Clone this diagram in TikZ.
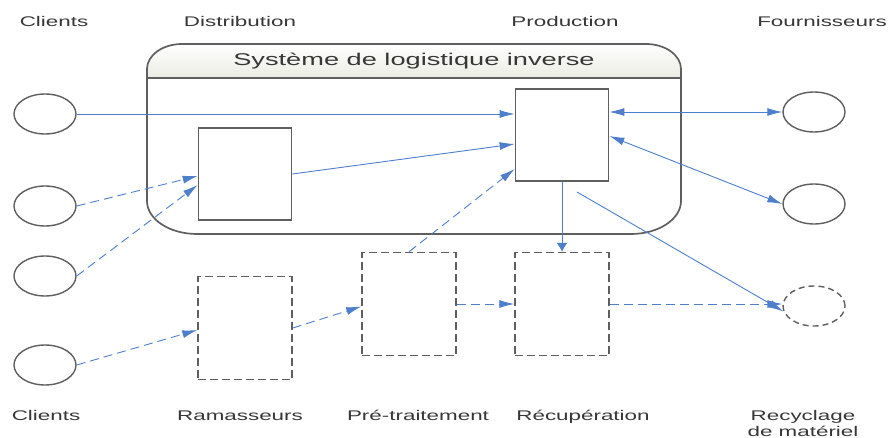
\documentclass[tikz,border=0pt]{standalone}
\usepackage{fontspec}
\setmainfont{Liberation Sans}[FakeStretch=1.6]
\usetikzlibrary{shapes.geometric,arrows.meta}
\definecolor{boxgray}{RGB}{95,95,95}
\definecolor{arrblue}{RGB}{77,127,204}
\definecolor{txtgray}{RGB}{55,55,55}
\definecolor{bandbot}{RGB}{234,236,226}
\tikzset{
  actor/.style={ellipse,draw=boxgray,line width=1.4pt,minimum width=62pt,minimum height=40pt,inner sep=0pt,fill=white},
  actordash/.style={actor,dash pattern=on 6pt off 4pt},
  solidbox/.style={rectangle,draw=boxgray,line width=1.7pt,fill=white,minimum width=93pt,minimum height=92pt,inner sep=0pt},
  dashbox/.style={rectangle,draw=boxgray,line width=1.5pt,dash pattern=on 8pt off 4pt,minimum width=94pt,minimum height=103pt,inner sep=0pt},
  lab/.style={font=\fontsize{14}{16}\selectfont,text=txtgray,inner sep=0pt,anchor=base,align=center},
  arr/.style={draw=arrblue,line width=0.9pt,-{Latex[length=15pt,width=8pt]}},
  darr/.style={arr,{Latex[length=15pt,width=8pt]}-{Latex[length=15pt,width=8pt]}},
  dasharr/.style={arr,dash pattern=on 9pt off 5pt},
}
\begin{document}
\begin{tikzpicture}[x=1pt,y=-1pt]
\useasboundingbox (0,0) rectangle (890,438);
% system frame
\shade[top color=white,bottom color=bandbot]
  (147,78) -- (147,69) .. controls (147,55.2) and (162.7,44) .. (182,44)
  -- (646,44) .. controls (665.3,44) and (681,55.2) .. (681,69) -- (681,78) -- cycle;
\draw[boxgray,line width=1.7pt]
  (147,78) -- (147,69) .. controls (147,55.2) and (162.7,44) .. (182,44)
  -- (646,44) .. controls (665.3,44) and (681,55.2) .. (681,69)
  -- (681,201) .. controls (681,219.2) and (658.6,234) .. (631,234)
  -- (197,234) .. controls (169.4,234) and (147,219.2) .. (147,201) -- cycle;
\draw[boxgray,line width=1.3pt] (147,78) -- (681,78);
\node[font=\fontsize{17}{19}\selectfont,text=txtgray,inner sep=0pt] (title) at (414,61) {Système de logistique inverse};
% actors
\node[actor] (c1) at (45,114) {};
\node[actor] (c2) at (45,206) {};
\node[actor] (c3) at (45,276) {};
\node[actor] (c4) at (45,365) {};
\node[actor] (f1) at (814,112) {};
\node[actor] (f2) at (814,204) {};
\node[actordash] (rc) at (814,306) {};
% boxes
\node[solidbox] (dist) at (245,174) {};
\node[solidbox] (prod) at (562,135) {};
\node[dashbox] (ram) at (245,328) {};
\node[dashbox] (pre) at (409,304) {};
\node[dashbox] (rec) at (562,304) {};
% connectors
\draw[arr] (c1.east) -- (c1.east -| prod.west);
\draw[arr] (dist.east) -- ([yshift=-9pt]prod.west);
\draw[dasharr] (c2.east) -- ([yshift=-2pt]dist.west);
\draw[dasharr] (c3.east) -- ([yshift=-11pt]dist.west);
\draw[dasharr] (c4.east) -- ([yshift=-2pt]ram.west);
\draw[dasharr] (ram.east) -- ([yshift=-2.5pt]pre.west);
\draw[dasharr] (pre.north) -- ([yshift=-34pt]prod.west);
\draw[dasharr] (pre.east) -- (pre.east -| rec.west);
\draw[arr,-{Latex[length=9pt,width=11pt]}] (prod.south) -- (rec.north);
\draw[darr] ([yshift=23pt]prod.east) -- (f1.west);
\draw[darr] ([yshift=-1pt]prod.east) -- (f2.west);
\coordinate (src) at (577,192);
\draw[arr] (src) -- (rc.190);
\draw[dasharr] (rec.east) -- (rec.east -| rc.west);
% labels
\node[lab] (lc1) at (54,27) {Clients};
\node[lab] (ldist) at (240,27) {Distribution};
\node[lab] (lprod) at (565,27) {Production};
\node[lab] (lfour) at (822,27) {Fournisseurs};
\node[lab] (lc2) at (46,420) {Clients};
\node[lab] (lram) at (240,420) {Ramasseurs};
\node[lab] (lpre) at (418,420) {Pré-traitement};
\node[lab] (lrec) at (583,420) {Récupération};
\node[lab] (lrecy) at (803,436) {Recyclage\\de matériel};
\end{tikzpicture}
\end{document}
